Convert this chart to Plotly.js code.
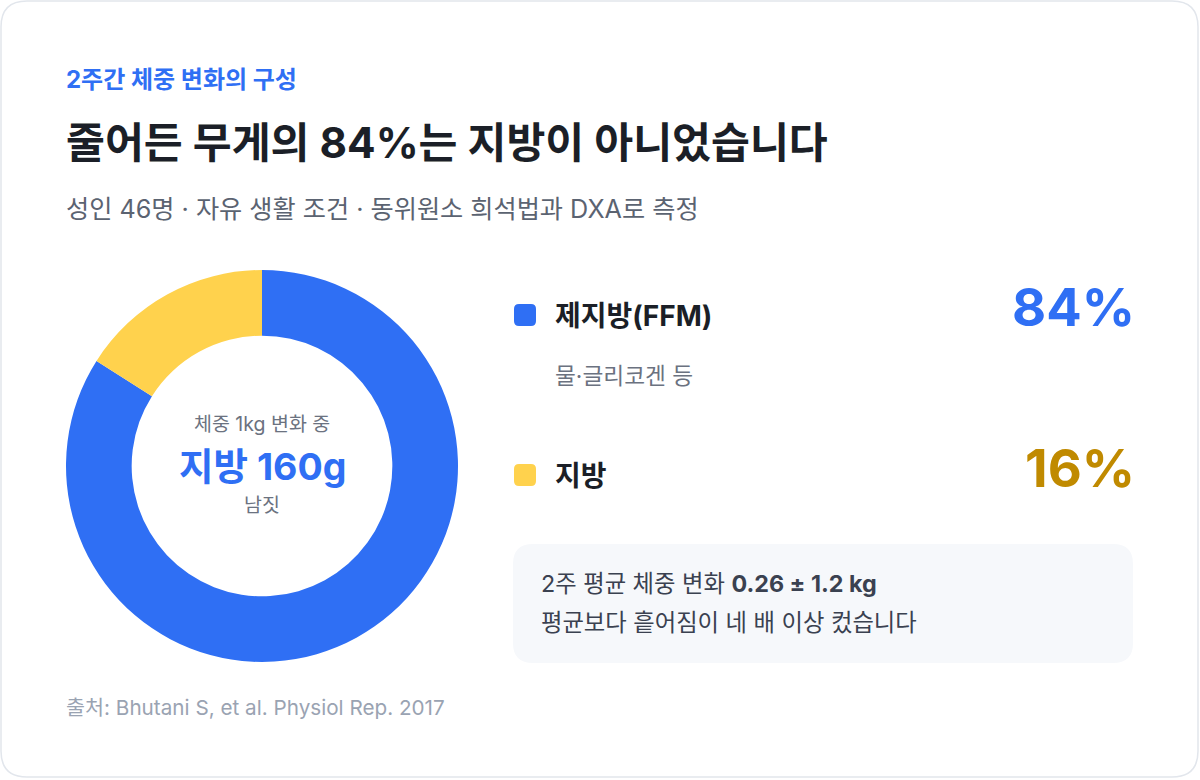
<!DOCTYPE html>
<html>
<head>
<meta charset="utf-8">
<script src="https://cdn.plot.ly/plotly-3.0.1.min.js"></script>
<style>
html,body{margin:0;padding:0;background:#ffffff;}
#chart{width:1200px;height:780px;}
</style>
</head>
<body>
<div id="chart"></div>
<script>
// ---- data ----
const categories = ['제지방(FFM)', '지방'];
const shares = [84, 16];
const shareLabels = ['84%', '16%'];
const subLabels = ['물·글리코겐 등', ''];
const kicker = '2주간 체중 변화의 구성';
const titleText = '줄어든 무게의 84%는 지방이 아니었습니다';
const subtitleText = '성인 46명 · 자유 생활 조건 · 동위원소 희석법과 DXA로 측정';
const centerTop = '체중 1kg 변화 중';
const centerMain = '지방 160g';
const centerBottom = '남짓';
const noteLine1 = '2주 평균 체중 변화 <b>0.26 ± 1.2 kg</b>';
const noteLine2 = '평균보다 흩어짐이 네 배 이상 컸습니다';
const sourceText = '출처: Bhutani S, et al. Physiol Rep. 2017';

// ---- styles ----
const BLUE = '#2f6ff4';
const YELLOW = '#ffd24d';
const GOLD = '#c08a00';
const DARK = '#1b1f27';
const F = "Inter, 'Noto Sans CJK KR', sans-serif";
const sliceColors = [BLUE, YELLOW];
const valueColors = [BLUE, GOLD];

function rr(x0, y0, x1, y1, r) {
  return `M${x0+r},${y0} L${x1-r},${y0} Q${x1},${y0} ${x1},${y0+r} L${x1},${y1-r} Q${x1},${y1} ${x1-r},${y1} L${x0+r},${y1} Q${x0},${y1} ${x0},${y1-r} L${x0},${y0+r} Q${x0},${y0} ${x0+r},${y0} Z`;
}

const W = 1200, H = 780;
const pie = {
  type: 'pie',
  labels: categories,
  values: shares,
  hole: 0.665,
  sort: false,
  direction: 'clockwise',
  rotation: 0,
  textinfo: 'none',
  hoverinfo: 'none',
  showlegend: false,
  marker: {colors: sliceColors, line: {width: 0}},
  domain: {x: [66/W, 458/W], y: [(H-662)/H, (H-270)/H]}
};

const ann = [];
function txt(x, y, text, size, color, anchor, bold) {
  ann.push({xref:'x', yref:'y', x:x, y:y, text: bold ? '<b>'+text+'</b>' : text,
    showarrow:false, xanchor:anchor, yanchor:'middle',
    font:{family:F, size:size, color:color}});
}
txt(64, 79, kicker, 24, BLUE, 'left', true);
txt(64, 142, titleText, 42.3, DARK, 'left', true);
txt(64, 209, subtitleText, 25.2, '#5b6371', 'left', false);

txt(262, 424, centerTop, 19.5, '#6b7280', 'center', false);
txt(262, 466, centerMain, 37.5, BLUE, 'center', true);
txt(262, 505, centerBottom, 19.5, '#6b7280', 'center', false);

const rowY = [316, 476];
const boxY = [315, 475];
const valY = [307, 468];
const shapes = [];
shapes.push({type:'path', xref:'x', yref:'y', path: rr(1, 1, 1198, 777, 26),
  fillcolor:'#ffffff', line:{color:'#e2e6ec', width:1.5}, layer:'below'});
for (let i = 0; i < categories.length; i++) {
  shapes.push({type:'path', xref:'x', yref:'y', path: rr(514, boxY[i]-11, 536, boxY[i]+11, 5),
    fillcolor: sliceColors[i], line:{width:0}});
  txt(553, rowY[i], categories[i], 28, DARK, 'left', true);
  txt(1137, valY[i], shareLabels[i], 52.5, valueColors[i], 'right', true);
  if (subLabels[i]) txt(553, rowY[i]+59, subLabels[i], 22.7, '#6b7280', 'left', false);
}
shapes.push({type:'path', xref:'x', yref:'y', path: rr(513, 544, 1133, 663, 20),
  fillcolor:'#f6f8fb', line:{width:0}, layer:'below'});
txt(539, 583, noteLine1, 23.3, '#3a4150', 'left', false);
txt(539, 622, noteLine2, 23.3, '#3a4150', 'left', false);
txt(64, 707, sourceText, 20.7, '#9aa3b2', 'left', false);

const layout = {
  width: W, height: H,
  margin: {l:0, r:0, t:0, b:0},
  paper_bgcolor: '#ffffff',
  plot_bgcolor: 'rgba(0,0,0,0)',
  xaxis: {range:[0, W], visible:false, fixedrange:true},
  yaxis: {range:[H, 0], visible:false, fixedrange:true},
  shapes: shapes,
  annotations: ann,
  showlegend: false
};
Plotly.newPlot('chart', [pie], layout, {displayModeBar:false, staticPlot:true});
</script>
</body>
</html>
